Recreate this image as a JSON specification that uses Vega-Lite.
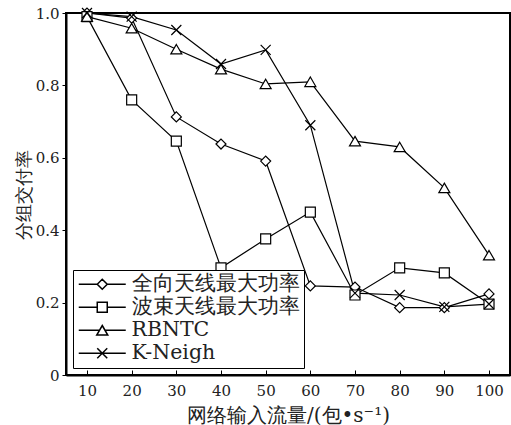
{
  "$schema": "https://vega.github.io/schema/vega-lite/v6.json",
  "width": 444,
  "height": 362,
  "autosize": {"type": "none"},
  "padding": {"left": 66, "top": 13, "right": 1, "bottom": 50},
  "background": "white",
  "config": {
    "font": "DejaVu Serif",
    "view": {"stroke": "black", "strokeWidth": 2},
    "axis": {
      "domainColor": "black",
      "domainWidth": 2,
      "tickColor": "black",
      "labelColor": "#222",
      "titleColor": "#222",
      "labelFont": "DejaVu Serif",
      "titleFont": "DejaVu Serif",
      "grid": false,
      "titleFontWeight": "normal"
    },
    "legend": {"labelFont": "DejaVu Serif"}
  },
  "data": {
    "values": [
      {"x": 10, "y": 1.0, "series": "全向天线最大功率"},
      {"x": 20, "y": 0.986, "series": "全向天线最大功率"},
      {"x": 30, "y": 0.713, "series": "全向天线最大功率"},
      {"x": 40, "y": 0.638, "series": "全向天线最大功率"},
      {"x": 50, "y": 0.591, "series": "全向天线最大功率"},
      {"x": 60, "y": 0.246, "series": "全向天线最大功率"},
      {"x": 70, "y": 0.243, "series": "全向天线最大功率"},
      {"x": 80, "y": 0.186, "series": "全向天线最大功率"},
      {"x": 90, "y": 0.186, "series": "全向天线最大功率"},
      {"x": 100, "y": 0.224, "series": "全向天线最大功率"},
      {"x": 10, "y": 0.99, "series": "波束天线最大功率"},
      {"x": 20, "y": 0.76, "series": "波束天线最大功率"},
      {"x": 30, "y": 0.646, "series": "波束天线最大功率"},
      {"x": 40, "y": 0.296, "series": "波束天线最大功率"},
      {"x": 50, "y": 0.376, "series": "波束天线最大功率"},
      {"x": 60, "y": 0.45, "series": "波束天线最大功率"},
      {"x": 70, "y": 0.221, "series": "波束天线最大功率"},
      {"x": 80, "y": 0.296, "series": "波束天线最大功率"},
      {"x": 90, "y": 0.282, "series": "波束天线最大功率"},
      {"x": 100, "y": 0.196, "series": "波束天线最大功率"},
      {"x": 10, "y": 0.99, "series": "RBNTC"},
      {"x": 20, "y": 0.958, "series": "RBNTC"},
      {"x": 30, "y": 0.9, "series": "RBNTC"},
      {"x": 40, "y": 0.845, "series": "RBNTC"},
      {"x": 50, "y": 0.804, "series": "RBNTC"},
      {"x": 60, "y": 0.81, "series": "RBNTC"},
      {"x": 70, "y": 0.646, "series": "RBNTC"},
      {"x": 80, "y": 0.63, "series": "RBNTC"},
      {"x": 90, "y": 0.517, "series": "RBNTC"},
      {"x": 100, "y": 0.331, "series": "RBNTC"},
      {"x": 10, "y": 1.0, "series": "K-Neigh"},
      {"x": 20, "y": 0.99, "series": "K-Neigh"},
      {"x": 30, "y": 0.953, "series": "K-Neigh"},
      {"x": 40, "y": 0.859, "series": "K-Neigh"},
      {"x": 50, "y": 0.898, "series": "K-Neigh"},
      {"x": 60, "y": 0.69, "series": "K-Neigh"},
      {"x": 70, "y": 0.226, "series": "K-Neigh"},
      {"x": 80, "y": 0.221, "series": "K-Neigh"},
      {"x": 90, "y": 0.188, "series": "K-Neigh"},
      {"x": 100, "y": 0.196, "series": "K-Neigh"}
    ]
  },
  "encoding": {
    "x": {
      "field": "x",
      "type": "quantitative",
      "scale": {"domain": [5.3, 104.7], "nice": false, "zero": false},
      "axis": {
        "values": [10, 20, 30, 40, 50, 60, 70, 80, 90, 100],
        "title": "网络输入流量/(包•s⁻¹)",
        "titleFontSize": 20,
        "labelFontSize": 15,
        "tickSize": -5,
        "labelPadding": 13,
        "titlePadding": 7
      }
    },
    "y": {
      "field": "y",
      "type": "quantitative",
      "scale": {"domain": [0, 1], "nice": false},
      "axis": {
        "values": [0, 0.2, 0.4, 0.6, 0.8, 1.0],
        "labelExpr": "datum.value == 0 ? '0' : format(datum.value, '.1f')",
        "title": "分组交付率",
        "titleFontSize": 18,
        "labelFontSize": 15,
        "tickSize": 4,
        "labelPadding": 3,
        "titlePadding": 2
      }
    }
  },
  "resolve": {"scale": {"shape": "independent"}, "legend": {"shape": "independent"}},
  "layer": [
    {
      "mark": {"type": "line", "color": "black", "strokeWidth": 1.2},
      "encoding": {"detail": {"field": "series", "type": "nominal"}}
    },
    {
      "mark": {"type": "point", "fill": "white", "stroke": "black", "strokeWidth": 1.2, "opacity": 0, "size": 100, "filled": true},
      "encoding": {
        "shape": {
          "field": "series",
          "type": "nominal",
          "scale": {
            "domain": ["全向天线最大功率", "波束天线最大功率", "RBNTC", "K-Neigh"],
            "range": [
              "M-4.7,0H-1M1,0H4.7M-1,0L0,-1L1,0L0,1Z",
              "M-4.7,0H-1M1,0H4.7M-1,-1H1V1H-1Z",
              "M-4.7,0H-0.55M0.55,0H4.7M0,-0.95L1.1,0.95L-1.1,0.95Z",
              "M-4.7,0H4.7M-1,-1L1,1M-1,1L1,-1"
            ]
          },
          "legend": {
            "title": null,
            "orient": "bottom-left",
            "offset": 7,
            "strokeColor": "black",
            "fillColor": "white",
            "padding": 4,
            "labelFontSize": 20.5,
            "labelColor": "#222",
            "labelLimit": 400,
            "rowPadding": 2,
            "symbolOffset": 15,
            "labelOffset": 19,
            "symbolOpacity": 1
          }
        }
      }
    },
    {
      "mark": {"type": "point", "fill": "white", "stroke": "black", "strokeWidth": 1.2, "opacity": 1, "size": 100, "filled": true},
      "encoding": {
        "shape": {
          "field": "series",
          "type": "nominal",
          "scale": {
            "domain": ["全向天线最大功率", "波束天线最大功率", "RBNTC", "K-Neigh"],
            "range": ["diamond", "square", "M0,-0.95L1.1,0.95L-1.1,0.95Z", "M-1,-1L1,1M-1,1L1,-1"]
          },
          "legend": null
        }
      }
    }
  ]
}
